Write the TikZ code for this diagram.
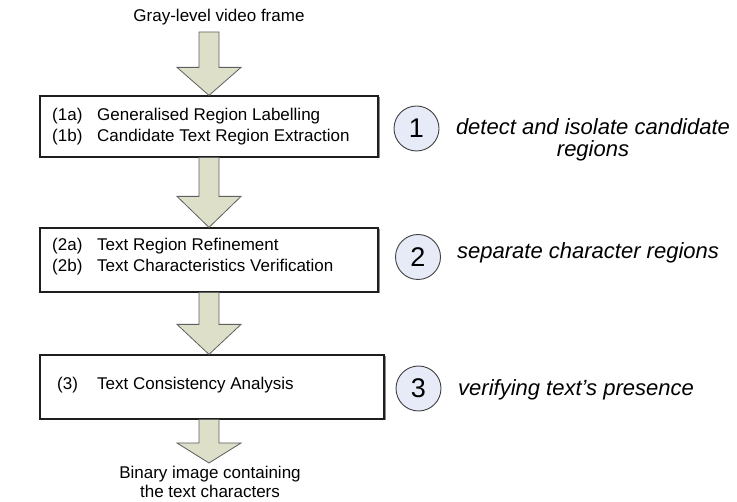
\documentclass[tikz,border=0pt]{standalone}
\usepackage{fontspec}
\setmainfont{Liberation Sans}
\usetikzlibrary{calc}
\definecolor{arrowfill}{RGB}{221,223,200}
\definecolor{arrowline}{RGB}{95,95,95}
\definecolor{circfill}{RGB}{230,235,247}
\definecolor{boxline}{RGB}{30,30,30}
\tikzset{
  box/.style={draw=boxline, line width=1.2pt, fill=white, inner sep=0pt},
  fatarrow/.style={draw=arrowline, line width=0.8pt, fill=arrowfill, line join=miter},
  boxtext/.style={anchor=base west, inner sep=0pt, font=\fontsize{17}{20}\selectfont},
  stepcircle/.style={draw=black!75, line width=0.9pt, fill=circfill, circle,
    minimum size=45pt, inner sep=0pt, font=\fontsize{27}{30}\selectfont},
  note/.style={align=center, inner sep=0pt, font=\fontsize{22}{22}\itshape\selectfont},
  plain/.style={align=center, inner sep=0pt, font=\fontsize{17}{19.5}\selectfont}
}
\newcommand\fatarr[3]{%
  \path[fatarrow] let \p1=(#1), \p2=(#2) in
    (\x1-10pt,\y1) -- (\x1+10pt,\y1) -- (\x1+10pt,\y2+#3) -- (\x1+32pt,\y2+#3)
    -- (\x1,\y2) -- (\x1-32pt,\y2+#3) -- (\x1-10pt,\y2+#3) -- cycle;}
\begin{document}
\begin{tikzpicture}[x=1pt,y=-1pt]
\useasboundingbox (0,0) rectangle (737,502);
% boxes (with faint shadow)
\fill[black!45] (41.5,97.5) rectangle (379.5,158.5);
\node[box, minimum width=338pt, minimum height=61pt] (b1) at (209,126.5) {};
\fill[black!45] (41.5,229.5) rectangle (379.5,293.5);
\node[box, minimum width=338pt, minimum height=64pt] (b2) at (209,260) {};
\fill[black!45] (41.5,356.5) rectangle (385.5,420.5);
\node[box, minimum width=344pt, minimum height=64pt] (b3) at (212,387) {};
% texts in boxes
\node[boxtext] (t1a) at (52,121) {(1a)};
\node[boxtext] (t1aa) at (97,121) {Generalised Region Labelling};
\node[boxtext] (t1b) at (52,142) {(1b)};
\node[boxtext] (t1bb) at (97,142) {Candidate Text Region Extraction};
\node[boxtext] (t2a) at (52,251) {(2a)};
\node[boxtext] (t2aa) at (97,251) {Text Region Refinement};
\node[boxtext] (t2b) at (52,272) {(2b)};
\node[boxtext] (t2bb) at (97,272) {Text Characteristics Verification};
\node[boxtext] (t3) at (57,390) {(3)};
\node[boxtext] (t33) at (97,390) {Text Consistency Analysis};
% input / output
\node[plain] (in) at (219,17) {Gray-level video frame};
\coordinate (intop) at (209,32);
\node[plain] (out) at (210,482) {Binary image containing\\the text characters};
\coordinate (outtip) at (209,463);
% arrows
\fatarr{intop}{b1.north}{28pt}
\fatarr{b1.south}{b2.north}{31pt}
\fatarr{b2.south}{b2.south |- b3.north}{30pt}
\fatarr{b2.south |- b3.south}{outtip}{20pt}
% circles
\node[stepcircle] (c1) at (416.5,128.5) {1};
\node[stepcircle] (c2) at (418,257) {2};
\node[stepcircle] (c3) at (418.5,388.5) {3};
% notes
\node[note, anchor=north] (n1) at (593,118) {detect and isolate candidate\\[0pt]regions};
\node[note, anchor=west] (n2) at (457,253) {separate character regions};
\node[note, anchor=west] (n3) at (458,390) {verifying text's presence};
\end{tikzpicture}
\end{document}
